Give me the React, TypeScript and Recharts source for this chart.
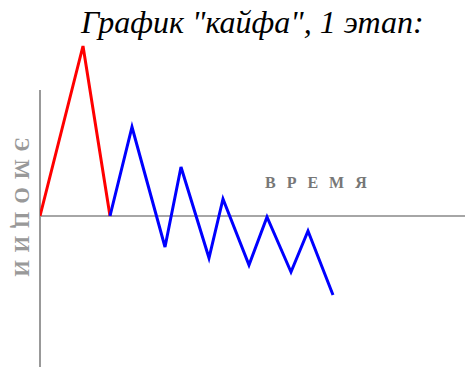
import { LineChart, Line, XAxis, YAxis, ReferenceLine } from "recharts"

// time / emotion readings, first stage
const redTime = [0, 43, 70]
const redMood = [0, 170, 0]
const blueTime = [70, 92, 125, 141, 169, 183, 209, 227, 251, 268, 293]
const blueMood = [0, 89, -31, 49, -42, 17, -49, -1, -56, -15, -79]

const redData = redTime.map((x, i) => ({ x, y: redMood[i] }))
const blueData = blueTime.map((x, i) => ({ x, y: blueMood[i] }))

const serif = "Liberation Serif, Times New Roman, serif"

export default function App() {
  return (
    <div style={{ position: "absolute", left: 0, top: 0, width: 465, height: 367, background: "#fff" }}>
      <LineChart width={465} height={367} margin={{ top: 40, right: 0, bottom: 0, left: 40 }}>
        <XAxis type="number" dataKey="x" domain={[0, 425]} hide allowDataOverflow />
        <YAxis type="number" dataKey="y" domain={[-151, 176]} hide allowDataOverflow />
        <ReferenceLine y={0} stroke="#888" strokeWidth={1.5} />
        <ReferenceLine
          segment={[{ x: 0, y: 126 }, { x: 0, y: -151 }]}
          stroke="#999"
          strokeWidth={2}
        />
        <Line data={redData} dataKey="y" type="linear" stroke="#ff0000" strokeWidth={3} dot={false} isAnimationActive={false} />
        <Line data={blueData} dataKey="y" type="linear" stroke="#0000ff" strokeWidth={3} dot={false} isAnimationActive={false} />
      </LineChart>
      <div
        style={{
          position: "absolute", left: 81, top: 5, whiteSpace: "nowrap",
          fontFamily: serif, fontStyle: "italic", fontSize: 32, lineHeight: "35px", color: "#000",
        }}
      >
        График "кайфа", 1 этап:
      </div>
      <div
        style={{
          position: "absolute", left: 265, top: 174, fontFamily: serif, fontWeight: "bold",
          fontSize: 16, letterSpacing: 11, color: "#777",
        }}
      >
        ВРЕМЯ
      </div>
      <div
        style={{
          position: "absolute", left: 21, top: 211, transform: "translate(-50%, -50%) rotate(90deg)",
          fontFamily: serif, fontWeight: "bold", fontSize: 21, letterSpacing: 8, color: "#999", whiteSpace: "nowrap",
        }}
      >
        ЭМОЦИИ
      </div>
    </div>
  )
}
